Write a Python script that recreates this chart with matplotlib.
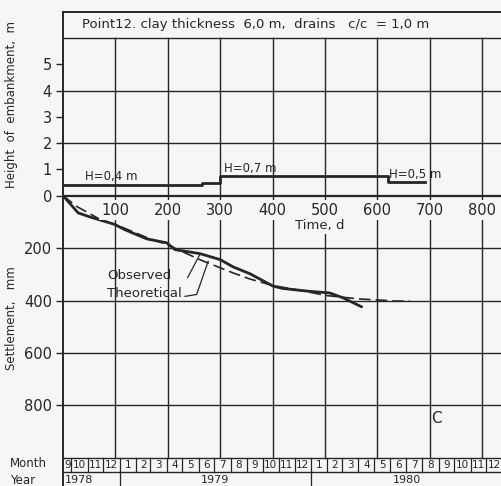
import matplotlib
matplotlib.use("Agg")
import matplotlib.pyplot as plt

# embankment height (m) vs time (d)
emb_day = [0, 265, 265, 300, 300, 620, 620, 691]
emb_h = [0.4, 0.4, 0.48, 0.48, 0.73, 0.73, 0.53, 0.53]

# settlement (mm) vs time (d)
obs_day = [0, 29, 51, 99, 118, 160, 198, 214, 261, 300, 325, 357, 401, 420, 471, 509, 535, 570]
obs_s = [0, 66, 81, 110, 130, 165, 180, 206, 221, 244, 272, 298, 345, 354, 365, 371, 390, 424]
theo_day = [0, 26, 71, 110, 160, 198, 261, 325, 357, 401, 452, 503, 566, 636, 662]
theo_s = [0, 41, 91, 118, 160, 186, 244, 295, 318, 343, 361, 381, 394, 402, 402]

day_ticks = [100, 200, 300, 400, 500, 600, 700, 800]
height_ticks = [0, 1, 2, 3, 4, 5]
settle_ticks = [200, 400, 600, 800]

# calendar strip: months from Sep 1978 to Dec 1980
month_labels = ['9', '10', '11', '12'] + [str(m) for m in range(1, 13)] * 2
month_len = [30, 31, 30, 31,
             31, 28, 31, 30, 31, 30, 31, 31, 30, 31, 30, 31,
             31, 29, 31, 30, 31, 30, 31, 31, 30, 31, 30, 31]
first_day = -14
years = ['1978', '1979', '1980']

ink = '#262626'
paper = '#f6f6f4'
H = 100  # 1 m of height drawn as 100 mm of settlement

plt.rcParams['font.family'] = 'DejaVu Sans'
fig = plt.figure(figsize=(5.01, 4.86), dpi=100, facecolor=paper)
ax = fig.add_axes([63 / 501, 0, 438 / 501, 474 / 486], facecolor=paper)
ax.set_xlim(0, 836)
ax.set_ylim(1107, -700)

for side in ['right', 'bottom']:
    ax.spines[side].set_visible(False)
for side in ['left', 'top']:
    ax.spines[side].set_color(ink)
    ax.spines[side].set_linewidth(1.4)

# grid
for y in [-600, -400, -200, 200, 400, 600, 800, 1000, 1053]:
    ax.axhline(y, color=ink, lw=1.0)
ax.axhline(0, color=ink, lw=1.6)
for d in day_ticks:
    ax.plot([d, d], [-600, 1000], color=ink, lw=1.0)

# ticks on the left
yt = [-H * h for h in height_ticks[::-1]] + settle_ticks
yl = [str(h) for h in height_ticks[::-1]] + [str(s) for s in settle_ticks]
ax.set_yticks(yt)
ax.set_yticklabels(yl, fontsize=10.5, color=ink)
ax.tick_params(axis='y', direction='out', length=5, width=1, color=ink, pad=3)
ax.set_xticks([])

# day labels inside plot
for d in day_ticks:
    ax.text(d, 55, str(d), ha='center', va='center', fontsize=10.5, color=ink,
            bbox=dict(boxstyle='square,pad=0.15', fc=paper, ec='none'))
ax.text(490, 114, 'Time, d', ha='center', va='center', fontsize=9.5, color=ink,
        bbox=dict(boxstyle='square,pad=0.15', fc=paper, ec='none'))

# title band
ax.text(36, -651, 'Point12. clay thickness  6,0 m,  drains   c/c  = 1,0 m',
        ha='left', va='center', fontsize=9.5, color=ink)

# embankment height
ax.plot(emb_day, [-H * h for h in emb_h], color=ink, lw=2.0)
ax.text(92, -74, 'H=0,4 m', ha='center', va='center', fontsize=8.5, color=ink)
ax.text(358, -102, 'H=0,7 m', ha='center', va='center', fontsize=8.5, color=ink)
ax.text(672, -80, 'H=0,5 m', ha='center', va='center', fontsize=8.5, color=ink)

# settlement curves
ax.plot(obs_day, obs_s, color=ink, lw=2.0, solid_capstyle='round')
ax.plot(theo_day, theo_s, color=ink, lw=1.2, dashes=(7, 3))
ax.text(84, 305, 'Observed', ha='left', va='center', fontsize=9.5, color=ink)
ax.text(84, 373, 'Theoretical', ha='left', va='center', fontsize=9.5, color=ink)
ax.plot([238, 261], [312, 225], color=ink, lw=0.9)
ax.plot([233, 255, 277], [384, 377, 251], color=ink, lw=0.9)
ax.text(713, 850, 'C', ha='center', va='center', fontsize=11, color=ink)

# month / year strip
start = first_day
year_edges = []
for lab, n in zip(month_labels, month_len):
    end = start + n
    x0 = max(start, 0)
    ax.plot([end, end], [1000, 1053], color=ink, lw=0.9)
    ax.text((x0 + end) / 2, 1027, lab, ha='center', va='center', fontsize=7.5, color=ink)
    if lab == '12':
        year_edges.append(end)
    start = end
for e in year_edges[:-1]:
    ax.plot([e, e], [1053, 1107], color=ink, lw=0.9)
ax.text(4, 1085, years[0], ha='left', va='center', fontsize=8, color=ink)
ax.text((year_edges[0] + year_edges[1]) / 2, 1085, years[1], ha='center', va='center', fontsize=8, color=ink)
ax.text((year_edges[1] + year_edges[2]) / 2, 1085, years[2], ha='center', va='center', fontsize=8, color=ink)

# side labels
fig.text(12 / 501, 1 - 105 / 486, 'Height  of  embankment,  m', rotation=90,
         ha='center', va='center', fontsize=8.5, color=ink)
fig.text(12 / 501, 1 - 318 / 486, 'Settlement,   mm', rotation=90,
         ha='center', va='center', fontsize=8.5, color=ink)
fig.text(10 / 501, 1 - 463 / 486, 'Month', ha='left', va='center', fontsize=8.5, color=ink)
fig.text(10 / 501, 1 - 480 / 486, 'Year', ha='left', va='center', fontsize=8.5, color=ink)

fig.savefig('out.png', dpi=100, facecolor=paper)
